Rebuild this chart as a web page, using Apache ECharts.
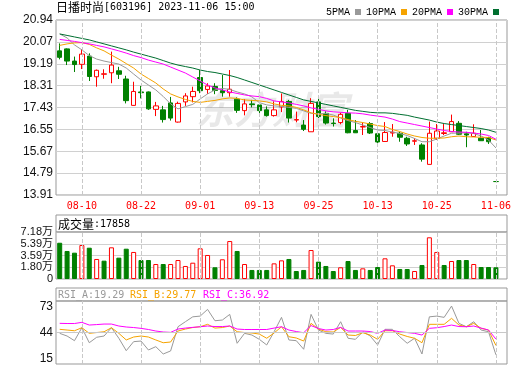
<!DOCTYPE html>
<html>
<head>
<meta charset="utf-8">
<script src="https://cdn.jsdelivr.net/npm/echarts@6/dist/echarts.min.js"></script>
<style>
  html, body { margin: 0; padding: 0; background: #fff; }
  #main { width: 520px; height: 365px; }
</style>
</head>
<body>
<div id="main"></div>
<script>
// trading days shown
var dates = ['08-07','08-08','08-09','08-10','08-11','08-14','08-15','08-16','08-17','08-18',
  '08-21','08-22','08-23','08-24','08-25','08-28','08-29','08-30','08-31','09-01',
  '09-04','09-05','09-06','09-07','09-08','09-11','09-12','09-13','09-14','09-15',
  '09-18','09-19','09-20','09-21','09-22','09-25','09-26','09-27','09-28','10-09',
  '10-10','10-11','10-12','10-13','10-16','10-17','10-18','10-19','10-20','10-23',
  '10-24','10-25','10-26','10-27','10-30','10-31','11-01','11-02','11-03','11-06'];
var labelDates = ['08-10','08-22','09-01','09-13','09-25','10-13','10-25','11-06'];

// [open, close, low, high]
var candles = [
  [19.70,19.44,19.36,20.00],[19.78,19.29,19.13,19.80],[19.29,19.15,18.85,19.47],[19.16,19.57,18.97,19.77],
  [19.49,18.67,18.49,19.60],[18.66,18.92,18.26,18.95],[18.76,18.78,18.58,18.96],[18.82,19.13,18.40,19.67],
  [18.90,18.76,18.57,19.06],[18.57,17.70,17.59,18.70],[17.51,18.07,17.50,18.46],[18.05,18.02,17.79,18.29],
  [18.05,17.37,17.33,18.07],[17.35,17.49,17.08,17.65],[17.33,16.94,16.82,17.49],[17.61,17.00,16.90,17.85],
  [16.84,17.59,16.82,17.66],[17.65,17.89,17.49,18.00],[17.86,18.07,17.63,18.26],[18.63,18.10,18.00,18.93],
  [18.15,18.29,17.97,18.40],[18.27,18.11,17.96,18.40],[18.10,18.02,17.86,18.73],[18.02,18.16,17.86,18.93],
  [17.76,17.31,17.21,17.83],[17.30,17.57,17.11,17.76],[17.57,17.54,17.43,17.73],[17.53,17.30,17.17,17.66],
  [17.33,17.10,17.06,17.47],[17.10,17.33,17.06,17.67],[17.45,17.66,17.24,17.99],[17.67,17.00,16.82,17.73],
  [16.92,16.94,16.83,17.26],[16.72,16.55,16.48,16.92],[16.45,17.59,16.45,17.80],[17.65,17.06,17.00,17.89],
  [17.19,16.80,16.74,17.27],[16.80,16.78,16.66,16.99],[16.82,17.15,16.75,17.22],[17.19,16.41,16.39,17.33],
  [16.50,16.41,16.40,16.92],[16.64,16.66,16.32,16.82],[16.78,16.40,16.36,16.84],[16.37,16.04,16.00,16.42],
  [16.06,16.42,16.05,16.84],[16.40,16.43,16.25,16.76],[16.39,16.23,16.05,16.45],[16.19,15.96,15.88,16.25],
  [16.07,16.09,15.92,16.19],[15.92,15.35,15.25,15.99],[15.14,16.39,15.14,16.86],[16.19,16.48,16.12,16.76],
  [16.38,16.41,16.32,16.76],[16.45,16.86,16.45,17.14],[16.79,16.35,16.32,16.88],[16.37,16.32,15.83,16.45],
  [16.26,16.39,16.24,16.75],[16.19,16.09,16.08,16.52],[16.21,16.05,15.96,16.25],[14.45,14.45,14.45,14.45]
];

var ma5 = [20.38,20.22,19.94,19.74,19.51,19.37,19.29,19.23,19.17,19.01,
  18.77,18.53,18.33,18.13,17.87,17.57,17.37,17.46,17.55,17.77,
  17.97,18.13,18.19,18.15,18.05,17.97,17.85,17.62,17.53,17.49,
  17.47,17.43,17.39,17.29,17.19,17.17,17.19,17.12,17.00,16.90,
  16.82,16.72,16.62,16.52,16.50,16.44,16.38,16.30,16.18,16.05,
  16.05,16.16,16.28,16.39,16.40,16.41,16.38,16.28,16.12,15.80];
var ma10 = [19.92,19.98,20.02,20.03,19.96,19.82,19.70,19.53,19.37,19.19,
  19.01,18.77,18.59,18.41,18.17,17.97,17.85,17.75,17.67,17.63,
  17.67,17.71,17.77,17.81,17.79,17.73,17.71,17.69,17.65,17.57,
  17.51,17.49,17.43,17.33,17.21,17.15,17.10,17.06,17.02,16.94,
  16.87,16.82,16.76,16.70,16.66,16.54,16.46,16.36,16.28,16.22,
  16.19,16.19,16.20,16.25,16.28,16.25,16.24,16.23,16.22,16.12];
var ma20 = [20.16,20.12,20.08,20.03,19.98,19.92,19.86,19.78,19.70,19.61,
  19.51,19.43,19.33,19.25,19.17,19.05,18.93,18.81,18.65,18.49,
  18.33,18.21,18.13,18.05,17.99,17.93,17.89,17.86,17.79,17.69,
  17.65,17.61,17.55,17.49,17.41,17.35,17.29,17.25,17.23,17.21,
  17.20,17.17,17.12,17.08,17.04,16.96,16.86,16.80,16.74,16.68,
  16.62,16.56,16.50,16.46,16.44,16.43,16.40,16.36,16.30,16.15];
var ma30 = [20.38,20.32,20.26,20.20,20.14,20.06,19.98,19.90,19.82,19.74,
  19.65,19.57,19.49,19.41,19.31,19.21,19.13,19.07,19.01,18.93,
  18.87,18.83,18.77,18.71,18.63,18.53,18.43,18.33,18.23,18.13,
  18.03,17.93,17.83,17.73,17.67,17.61,17.55,17.49,17.43,17.37,
  17.31,17.27,17.23,17.21,17.21,17.19,17.15,17.11,17.04,16.98,
  16.92,16.84,16.78,16.74,16.70,16.66,16.62,16.58,16.52,16.43];

var volumes = [55400,42800,40200,51900,47800,30600,28000,48400,32600,46300,
  41300,29000,29000,22900,22900,22900,29000,19900,24900,46900,
  36700,17900,30100,58000,42800,22900,13800,13800,13800,23900,
  28500,30600,12200,13800,44300,26500,19900,12200,17900,27500,
  13800,16300,13800,18300,31600,20900,15300,15300,12200,21400,
  63700,41300,21400,27500,29000,29000,22900,18300,18300,17858];
// 1 = red (up) bar, 0 = green (down) bar
var volUp = [0,0,0,1,0,1,0,1,0,0, 1,0,0,1,0,1,1,1,1,1, 1,0,1,1,0,1,0,0,0,1,
  1,0,0,0,1,0,0,0,1,0, 0,1,0,0,1,1,0,0,1,0, 1,1,0,1,0,0,1,0,0,0];

var rsiA = [43.3,40.3,35.1,49.6,32.8,38.9,40.3,49.6,37.8,23.9,
  34.0,34.7,24.7,28.4,20.2,23.6,50.7,56.3,61.8,62.6,
  70.1,57.4,58.2,64.5,32.2,43.3,41.4,36.6,30.3,45.1,
  61.2,35.9,35.1,25.5,64.5,47.0,43.3,42.5,56.3,37.8,
  36.6,45.1,40.3,30.3,47.8,47.8,39.5,32.2,37.8,20.2,
  61.8,62.6,61.2,73.8,54.5,50.7,56.3,47.0,45.1,19.29];
var rsiB = [47.8,47.0,46.2,49.6,43.3,44.2,45.1,49.6,43.3,35.9,
  39.2,40.3,39.2,35.9,32.8,33.6,45.9,48.1,49.8,50.7,
  53.4,49.2,49.8,51.5,45.1,44.2,43.7,42.5,37.8,43.7,
  50.7,39.5,38.1,34.7,54.5,48.1,45.1,44.8,50.0,41.4,
  40.9,44.0,41.4,36.6,46.2,46.2,42.5,39.8,37.8,32.8,
  53.4,53.4,53.4,60.1,52.6,50.7,54.5,48.9,47.0,29.77];
var rsiC = [54.5,54.3,54.3,55.6,52.6,53.1,53.7,53.7,51.5,50.4,
  49.8,48.9,47.6,45.9,44.8,44.4,48.1,49.2,50.0,50.7,
  51.5,50.9,50.9,51.5,48.1,47.6,47.6,47.6,47.6,49.2,
  50.7,47.0,45.3,44.0,52.0,48.7,47.0,47.6,50.0,45.9,
  45.9,45.9,45.3,43.3,47.0,46.5,45.1,44.2,43.3,41.4,
  48.9,49.6,50.9,52.6,50.9,50.7,51.5,49.2,47.0,36.92];

var priceTicks = ['13.91','14.79','15.67','16.55','17.43','18.31','19.19','20.07','20.94'];
var volTicks = ['0','1.80万','3.59万','5.39万','7.18万'];
var rsiTicks = [15, 44, 73];

var RED = '#ff0000', GREEN = '#008000', GRAY = '#999999';
var ORANGE = '#f5a300', PINK = '#ff00ff', DKGREEN = '#006f30';
var BORDER = '#999', SPLIT = '#d0d0d0';

var cats = dates.concat(['']);
var pMin = 13.91, pMax = 20.94, pStep = (pMax - pMin) / 8;
var vMax = 71800, vStep = vMax / 4;

function vlines() {
  return {
    silent: true, symbol: 'none', label: { show: false },
    lineStyle: { color: '#c8c8c8', type: 'dashed', width: 1 },
    data: labelDates.map(function (d) { return { xAxis: d }; })
  };
}

function xAx(gi, showLabel) {
  return {
    type: 'category', gridIndex: gi, data: cats, boundaryGap: true,
    axisLine: { show: false }, axisTick: { show: false }, splitLine: { show: false },
    axisLabel: {
      show: showLabel, color: RED, fontSize: 10, fontFamily: 'DejaVu Sans Mono', margin: 6,
      interval: function (i, v) { return labelDates.indexOf(v) >= 0; }
    }
  };
}

var myChart = echarts.init(document.getElementById('main'));
var option = {
  animation: false,
  backgroundColor: '#fff',
  legend: {
    left: 321, top: 2, align: 'right', icon: 'rect', itemWidth: 6, itemHeight: 6, itemGap: 5,
    textStyle: { fontFamily: 'Liberation Mono', fontSize: 10, color: '#000' },
    data: ['5PMA', '10PMA', '20PMA', '30PMA']
  },
  graphic: [
    { type: 'text', left: 56, top: 1, z: 10,
      style: { text: '{a|日播时尚}{b|[603196] 2023-11-06 15:00}', fill: '#000',
        rich: { a: { fontSize: 12, fontFamily: 'Noto Sans CJK SC', fill: '#000' },
                b: { fontSize: 10, fontFamily: 'DejaVu Sans Mono', fill: '#000' } } } },
    { type: 'text', x: 196, y: 110, z: 1, silent: true,
      style: { text: '东方财富', font: 'italic bold 38px "Noto Sans CJK SC"', fill: 'rgba(0,0,0,0.09)',
        verticalAlign: 'middle' } },
    { type: 'rect', shape: { x: 56, y: 215, width: 451, height: 17 }, z: 5,
      style: { fill: 'none', stroke: BORDER, lineWidth: 1 } },
    { type: 'text', x: 58, y: 224, z: 10,
      style: { text: '{a|成交量}{b|:17858}', verticalAlign: 'middle',
        rich: { a: { fontSize: 12, fontFamily: 'Noto Sans CJK SC', fill: '#000' },
                b: { fontSize: 10, fontFamily: 'DejaVu Sans Mono', fill: '#000' } } } },
    { type: 'rect', shape: { x: 56, y: 288, width: 451, height: 13 }, z: 5,
      style: { fill: 'none', stroke: BORDER, lineWidth: 1 } },
    { type: 'text', x: 58, y: 295, z: 10,
      style: { text: 'RSI_A:' + rsiA[rsiA.length - 1].toFixed(2), verticalAlign: 'middle',
        font: '10px "DejaVu Sans Mono"', fill: GRAY } },
    { type: 'text', x: 130, y: 295, z: 10,
      style: { text: 'RSI_B:' + rsiB[rsiB.length - 1].toFixed(2), verticalAlign: 'middle',
        font: '10px "DejaVu Sans Mono"', fill: ORANGE } },
    { type: 'text', x: 203, y: 295, z: 10,
      style: { text: 'RSI_C:' + rsiC[rsiC.length - 1].toFixed(2), verticalAlign: 'middle',
        font: '10px "DejaVu Sans Mono"', fill: PINK } }
  ],
  grid: [
    { left: 56, top: 20, width: 451, height: 175, show: true, borderColor: BORDER, borderWidth: 1 },
    { left: 56, top: 232, width: 451, height: 47, show: true, borderColor: BORDER, borderWidth: 1 },
    { left: 56, top: 301, width: 451, height: 63, show: true, borderColor: BORDER, borderWidth: 1 }
  ],
  xAxis: [xAx(0, true), xAx(1, false), xAx(2, false)],
  yAxis: [
    { type: 'value', gridIndex: 0, min: pMin, max: pMax, interval: pStep, scale: true,
      axisLine: { show: false }, axisTick: { show: false },
      splitLine: { lineStyle: { color: SPLIT, width: 1 } },
      axisLabel: { color: '#111', fontSize: 12, fontFamily: 'Liberation Sans', margin: 3,
        formatter: function (v) { return priceTicks[Math.round((v - pMin) / pStep)] || ''; } } },
    { type: 'value', gridIndex: 1, min: 0, max: vMax, interval: vStep,
      axisLine: { show: false }, axisTick: { show: false },
      splitLine: { lineStyle: { color: SPLIT, width: 1 } },
      axisLabel: { color: '#111', fontSize: 11, fontFamily: 'Liberation Sans, Noto Sans CJK SC', margin: 3,
        formatter: function (v) { return volTicks[Math.round(v / vStep)] || ''; } } },
    { type: 'value', gridIndex: 2, min: 9, max: 79.5, interval: 1,
      axisLine: { show: false }, axisTick: { show: false }, splitLine: { show: false },
      axisLabel: { color: '#111', fontSize: 12, fontFamily: 'Liberation Sans', margin: 3,
        formatter: function (v) { return rsiTicks.indexOf(Math.round(v)) >= 0 && Math.abs(v - Math.round(v)) < 1e-6 ? String(Math.round(v)) : ''; } } }
  ],
  series: [
    { type: 'candlestick', name: 'K', xAxisIndex: 0, yAxisIndex: 0, data: candles, barWidth: 5,
      itemStyle: { color: '#fff', color0: GREEN, borderColor: RED, borderColor0: GREEN, borderWidth: 1 },
      markLine: vlines() },
    { type: 'line', name: '5PMA', xAxisIndex: 0, yAxisIndex: 0, data: ma5, symbol: 'none',
      itemStyle: { color: GRAY }, lineStyle: { color: GRAY, width: 1 } },
    { type: 'line', name: '10PMA', xAxisIndex: 0, yAxisIndex: 0, data: ma10, symbol: 'none',
      itemStyle: { color: ORANGE }, lineStyle: { color: ORANGE, width: 1 } },
    { type: 'line', name: '20PMA', xAxisIndex: 0, yAxisIndex: 0, data: ma20, symbol: 'none',
      itemStyle: { color: PINK }, lineStyle: { color: PINK, width: 1 } },
    { type: 'line', name: '30PMA', xAxisIndex: 0, yAxisIndex: 0, data: ma30, symbol: 'none',
      itemStyle: { color: DKGREEN }, lineStyle: { color: DKGREEN, width: 1 } },
    { type: 'bar', name: 'VOL', xAxisIndex: 1, yAxisIndex: 1, barWidth: 5,
      data: volumes.map(function (v, i) {
        return { value: v, itemStyle: volUp[i]
          ? { color: '#fff', borderColor: RED, borderWidth: 1 }
          : { color: GREEN, borderColor: GREEN, borderWidth: 1 } };
      }),
      markLine: vlines() },
    { type: 'line', name: 'RSI_A', xAxisIndex: 2, yAxisIndex: 2, data: rsiA, symbol: 'none',
      lineStyle: { color: GRAY, width: 1 },
      markLine: (function () {
        var m = vlines();
        m.data = m.data.concat([{ yAxis: 44, lineStyle: { type: 'solid', color: '#c8c8c8' } }]);
        return m;
      })() },
    { type: 'line', name: 'RSI_B', xAxisIndex: 2, yAxisIndex: 2, data: rsiB, symbol: 'none',
      lineStyle: { color: ORANGE, width: 1 } },
    { type: 'line', name: 'RSI_C', xAxisIndex: 2, yAxisIndex: 2, data: rsiC, symbol: 'none',
      lineStyle: { color: PINK, width: 1 } }
  ]
};
myChart.setOption(option);
</script>
</body>
</html>
